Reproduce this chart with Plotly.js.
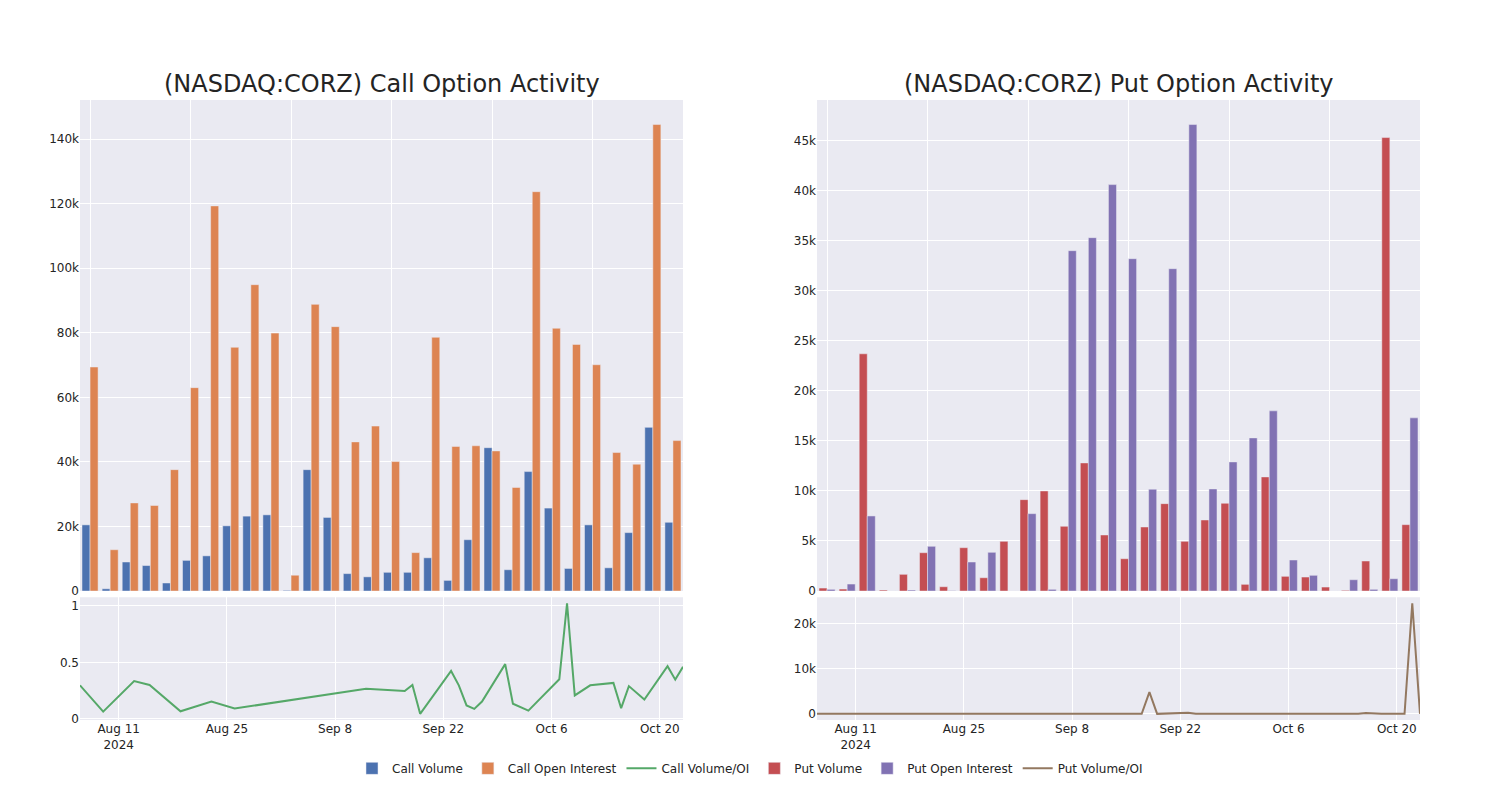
<!DOCTYPE html>
<html>
<head>
<meta charset="utf-8">
<script src="https://cdn.plot.ly/plotly-3.0.1.min.js"></script>
<style>html,body{margin:0;padding:0;background:#fff;}#chart{width:1500px;height:800px;}</style>
</head>
<body>
<div id="chart"></div>
<script>
const dates = ['2024-08-06','2024-08-09','2024-08-13','2024-08-15','2024-08-19','2024-08-23','2024-08-26',
  '2024-09-12','2024-09-17','2024-09-18','2024-09-19','2024-09-23','2024-09-24','2024-09-25','2024-09-26',
  '2024-09-27','2024-09-30','2024-10-01','2024-10-03','2024-10-07','2024-10-08','2024-10-09','2024-10-11',
  '2024-10-14','2024-10-15','2024-10-16','2024-10-18','2024-10-21','2024-10-22','2024-10-23'];

const callVolume = [20500,700,9000,7900,2500,9500,10900,20200,23200,23600,200,37600,22800,5400,4400,
  5800,5800,10300,3300,15900,44400,6600,37000,25700,7000,20500,7200,18100,50700,21300];
const callOI = [69400,12800,27300,26500,37600,63000,119300,75500,94900,79900,4900,88800,81900,46200,51100,
  40100,11900,78600,44800,45000,43400,32100,123700,81400,76400,70100,42900,39300,144500,46600];
const callRatio = [0.297,0.065,0.335,0.30,0.068,0.154,0.092,0.267,0.246,0.30,0.045,0.424,0.297,0.119,0.089,
  0.154,0.484,0.134,0.074,0.35,1.02,0.208,0.297,0.318,0.095,0.29,0.172,0.466,0.347,0.46];

const putVolume = [300,200,23700,100,1670,3830,430,4330,1330,4970,9130,10000,6470,12800,5600,
  3230,6400,8730,4970,7100,8770,670,11400,1470,1400,400,70,3000,45300,6630];
const putOI = [170,700,7500,0,100,4470,30,2900,3870,0,7730,170,34000,35300,40600,
  33200,10170,32200,46600,10200,12900,15300,18000,3100,1570,0,1130,170,1230,17300];
const putRatio = [1.8,0.3,3.2,100,16.7,0.86,14,1.5,0.34,4800,1.2,220,0.19,0.36,0.14,
  0.1,0.63,0.27,0.11,0.7,0.68,0.04,0.63,0.47,0.89,180,0.06,17.6,24400,0.38];

const C = {
  blue:'rgb(76,114,176)', orange:'rgb(221,132,82)', green:'rgb(85,168,104)',
  red:'rgb(196,78,82)', purple:'rgb(129,114,179)', brown:'rgb(147,120,96)'
};
const barLine = {color:'rgb(234,234,242)', width:0.5};

const traces = [
  {type:'bar', name:'Call Volume', x:dates, y:callVolume, xaxis:'x', yaxis:'y', marker:{color:C.blue, line:barLine}},
  {type:'bar', name:'Call Open Interest', x:dates, y:callOI, xaxis:'x', yaxis:'y', marker:{color:C.orange, line:barLine}},
  {type:'scatter', mode:'lines', name:'Call Volume/OI', x:dates, y:callRatio, xaxis:'x3', yaxis:'y3', line:{color:C.green, width:2}},
  {type:'bar', name:'Put Volume', x:dates, y:putVolume, xaxis:'x2', yaxis:'y2', marker:{color:C.red, line:barLine}},
  {type:'bar', name:'Put Open Interest', x:dates, y:putOI, xaxis:'x2', yaxis:'y2', marker:{color:C.purple, line:barLine}},
  {type:'scatter', mode:'lines', name:'Put Volume/OI', x:dates, y:putRatio, xaxis:'x4', yaxis:'y4', line:{color:C.brown, width:2}}
];

const tf = {size:12, color:'rgb(36,36,36)'};
const common = {gridcolor:'white', gridwidth:1, zeroline:false, showline:false, ticks:'', tickfont:tf, automargin:false};
const topX = Object.assign({}, common, {type:'category', showticklabels:false, tickmode:'linear', tick0:0, dtick:5});
const botX = Object.assign({}, common, {type:'date', tickmode:'linear', tick0:'2024-08-11', dtick:14*86400000});

const layout = {
  width:1500, height:800,
  margin:{l:80, r:80, t:100, b:80},
  paper_bgcolor:'white', plot_bgcolor:'rgb(234,234,242)',
  font:{family:'"DejaVu Sans", verdana, arial, sans-serif', color:'rgb(36,36,36)', size:12},
  barmode:'group',
  showlegend:true,
  legend:{orientation:'h', x:0.5, xanchor:'center', y:-0.078, yanchor:'middle', font:{size:12}},
  xaxis: Object.assign({}, topX, {domain:[0,0.45], anchor:'y'}),
  yaxis: Object.assign({}, common, {domain:[0.208,1], anchor:'x', tickmode:'linear', tick0:0, dtick:20000}),
  xaxis2: Object.assign({}, topX, {domain:[0.55,1], anchor:'y2'}),
  yaxis2: Object.assign({}, common, {domain:[0.208,1], anchor:'x2', tickmode:'linear', tick0:0, dtick:5000}),
  xaxis3: Object.assign({}, botX, {domain:[0,0.45], anchor:'y3'}),
  yaxis3: Object.assign({}, common, {domain:[0,0.198], anchor:'x3', tickmode:'linear', tick0:0, dtick:0.5}),
  xaxis4: Object.assign({}, botX, {domain:[0.55,1], anchor:'y4'}),
  yaxis4: Object.assign({}, common, {domain:[0,0.198], anchor:'x4', tickmode:'linear', tick0:0, dtick:10000}),
  annotations:[
    {text:'(NASDAQ:CORZ) Call Option Activity', x:0.225, y:1, xref:'paper', yref:'paper', xanchor:'center', yanchor:'bottom', showarrow:false, font:{size:24, color:'rgb(36,36,36)'}},
    {text:'(NASDAQ:CORZ) Put Option Activity', x:0.775, y:1, xref:'paper', yref:'paper', xanchor:'center', yanchor:'bottom', showarrow:false, font:{size:24, color:'rgb(36,36,36)'}}
  ]
};

Plotly.newPlot('chart', traces, layout, {displayModeBar:false, responsive:false});
</script>
</body>
</html>
